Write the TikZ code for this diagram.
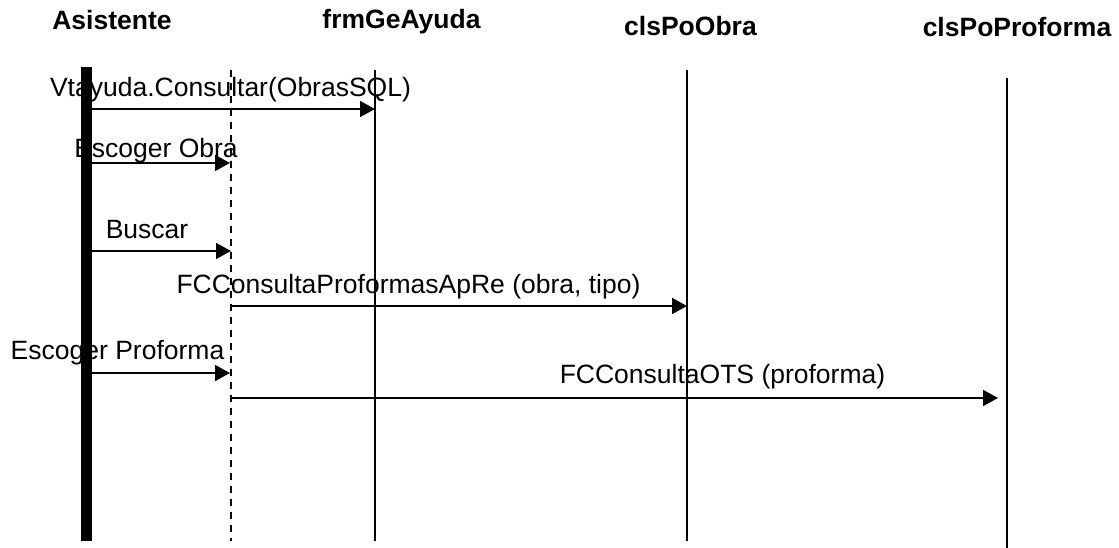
\documentclass[tikz,border=0pt]{standalone}
\usepackage{fontspec}
\setmainfont{Liberation Sans}
\usetikzlibrary{arrows.meta}
\def\lineTop{70}
\def\lineBot{541}
\def\barL{81}
\def\barR{92}
\def\xForm{231}
\def\xAyuda{375}
\def\xObra{687}
\def\xProf{1007}

\begin{document}
\begin{tikzpicture}[x=1pt, y=-1pt,
                    font=\fontsize{26.5}{30}\selectfont,
                    life/.style={line width=1.5pt},
                    msg/.style={line width=1.6pt,
                                -{Triangle[length=15pt, width=16pt]}},
                    header/.style={font=\fontsize{26.5}{30}\selectfont\bfseries,
                                   anchor=base, inner sep=0pt},
                    msgtext/.style={anchor=base, inner sep=0pt}]

    \useasboundingbox (0,0) rectangle (1119,548);

    % ==========================================================
    % 1. HEADERS
    % ==========================================================
    \node[header] (hAsis)  at (112, 30)   {Asistente};
    \node[header] (hAyuda) at (401.5, 29) {frmGeAyuda};
    \node[header] (hObra)  at (690.5, 36) {clsPoObra};
    \node[header] (hProf)  at (1017, 37)  {clsPoProforma};

    % ==========================================================
    % 2. LIFELINES
    % ==========================================================
    % Actor (thick bar)
    \fill (\barL, 67) rectangle (\barR, \lineBot);
    % Form (dashed)
    \draw[life, dash pattern=on 7pt off 6pt] (\xForm, \lineTop) -- (\xForm, \lineBot);
    % Classes
    \draw[life] (\xAyuda, \lineTop) -- (\xAyuda, \lineBot);
    \draw[life] (\xObra, \lineTop)  -- (\xObra, \lineBot);
    \draw[life] (\xProf, 78)        -- (\xProf, 548);

    % ==========================================================
    % 3. MESSAGE END POINTS
    % ==========================================================
    \coordinate (asis1) at (\barR, 109);
    \coordinate (ayuda1) at (\xAyuda, 109);
    \coordinate (asis2) at (\barR, 163);
    \coordinate (form2) at (230, 163);
    \coordinate (asis3) at (\barR, 251);
    \coordinate (form3) at (\xForm, 251);
    \coordinate (form4) at (\xForm, 306);
    \coordinate (obra4) at (\xObra, 306);
    \coordinate (asis5) at (\barR, 373);
    \coordinate (form5) at (230, 373);
    \coordinate (form6) at (\xForm, 398);
    \coordinate (prof6) at (998, 398);

    % ==========================================================
    % 4. MESSAGES
    % ==========================================================
    \draw[msg] (asis1) -- (ayuda1);
    \draw[msg] (asis2) -- (form2);
    \draw[msg] (asis3) -- (form3);
    \draw[msg] (form4) -- (obra4);
    \draw[msg] (asis5) -- (form5);
    \draw[msg] (form6) -- (prof6);

    % Labels
    \node[msgtext] (tConsultar) at (230.5, 97)  {Vtayuda.Consultar(ObrasSQL)};
    \node[msgtext] (tObra)      at (156, 158)   {Escoger Obra};
    \node[msgtext] (tBuscar)    at (147, 239)   {Buscar};
    \node[msgtext] (tApRe)      at (408.5, 293) {FCConsultaProformasApRe (obra, tipo)};
    \node[msgtext] (tProforma)  at (117.5, 359) {Escoger Proforma};
    \node[msgtext] (tOTS)       at (722.5, 383) {FCConsultaOTS (proforma)};

\end{tikzpicture}
\end{document}
